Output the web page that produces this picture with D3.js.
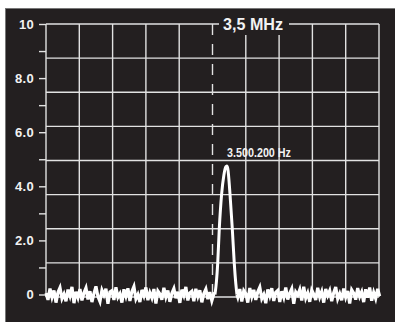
<!DOCTYPE html>
<html>
<head>
<meta charset="utf-8">
<script src="https://cdn.jsdelivr.net/npm/d3@7"></script>
<style>
  body { margin: 0; background: #fff; }
  svg { display: block; }
  text { font-family: "Liberation Sans", Arial, sans-serif; font-weight: bold; fill: #f2f2f2; }
</style>
</head>
<body>
<div id="chart"></div>
<script>
// spectrum around 3.5 MHz, x in Hz offset from centre
const centerLabel = '3,5 MHz';
const peakLabel = '3.500.200 Hz';
const spanHz = [-2500, 2500];
const divHz = 500;
const levelTicks = [0, 1, 2, 3, 4, 5, 6, 7, 8, 9, 10];
const levelLabels = { 0: '0', 2: '2.0', 4: '4.0', 6: '6.0', 8: '8.0', 10: '10' };
const noiseStepHz = 30;

// noise floor left of the carrier (starting at -2500 Hz)
const noiseLeft = [
  0.05,-0.2,0.22,-0.1,0.15,-0.3,0.08,0.25,-0.15,0.02,
  -0.25,0.18,-0.05,0.28,-0.32,0.1,-0.12,0.2,-0.22,0.06,
  0.24,-0.18,0.12,-0.28,0.04,0.3,-0.08,-0.26,0.16,-0.02,
  0.21,-0.34,0.09,0.14,-0.2,0.27,-0.1,0.03,-0.3,0.19,
  -0.06,0.23,-0.24,0.11,0.29,-0.16,0.0,-0.28,0.17,-0.04,
  0.26,-0.21,0.07,-0.12,0.2,-0.33,0.13,0.02,-0.19,0.25,
  -0.09,0.15,-0.27,0.05,0.22,-0.14,0.1,-0.31,0.18,-0.03,
  0.28,-0.22,0.06,0.12,-0.25,0.21,-0.07,0.16,-0.29,0.04,
  0.2,-0.17,0.09,-0.23,0.02
];
// carrier peak
const peakHz    = [37, 60, 78, 102, 138, 170, 200, 215, 230, 262, 297, 327, 350, 367];
const peakLevel = [0, 0.5, 1.15, 2.44, 3.74, 4.4, 4.72, 4.75, 4.65, 3.74, 2.44, 1.15, 0.4, 0];
// noise floor right of the carrier (starting at +380 Hz)
const noiseRightStart = 380;
const noiseRight = [
  -0.1,0.2,-0.26,0.14,0.03,-0.3,0.24,-0.08,0.17,-0.2,
  0.1,0.27,-0.15,0.0,-0.32,0.19,-0.05,0.23,-0.24,0.08,
  0.15,-0.28,0.12,-0.11,0.26,-0.18,0.04,0.21,-0.34,0.09,
  -0.02,0.18,-0.22,0.29,-0.13,0.06,-0.27,0.16,0.01,-0.2,
  0.25,-0.09,0.11,-0.3,0.2,-0.04,0.14,-0.25,0.07,0.28,
  -0.16,0.03,-0.21,0.22,-0.1,0.13,-0.33,0.17,0.05,-0.19,
  0.24,-0.07,0.1,-0.28,0.19,-0.12,0.26,-0.23,0.08,-0.15,
  0.21,-0.06
];

const width = 395, height = 322;
const plot = { left: 46, right: 379, top: 24, bottom: 297 };
const gridColor = '#e2e2e2';

const svg = d3.select('#chart').append('svg')
  .attr('width', width)
  .attr('height', height);

// dark panel
svg.append('rect')
  .attr('x', 5.5).attr('y', 8.5)
  .attr('width', width).attr('height', height)
  .attr('fill', '#231f20')
  .attr('stroke', '#777').attr('stroke-width', 1);

const x = d3.scaleLinear().domain(spanHz).range([plot.left, plot.right]);
const y = d3.scaleLinear().domain([0, 10]).range([294.5, 24]);
const gridY = d3.scaleLinear().domain([0, 8]).range([plot.bottom, plot.top]);

const grid = svg.append('g').attr('stroke', gridColor).attr('stroke-width', 1.4);

// horizontal divisions
grid.selectAll('line.h')
  .data(d3.range(0, 9))
  .join('line')
  .attr('class', 'h')
  .attr('x1', plot.left).attr('x2', plot.right)
  .attr('y1', d => gridY(d)).attr('y2', d => gridY(d));

// vertical divisions (centre one is dashed)
const xDivs = d3.range(spanHz[0], spanHz[1] + 1, divHz);
grid.selectAll('line.v')
  .data(xDivs.filter(d => d !== 0))
  .join('line')
  .attr('class', 'v')
  .attr('x1', d => x(d)).attr('x2', d => x(d))
  .attr('y1', plot.top).attr('y2', plot.bottom);

// y axis
const yAxis = d3.axisLeft(y)
  .tickValues(levelTicks)
  .tickSize(7)
  .tickPadding(5)
  .tickFormat(d => levelLabels[d] || '');
const ya = svg.append('g')
  .attr('transform', `translate(${plot.left},0)`)
  .call(yAxis);
ya.select('.domain').remove();
ya.selectAll('.tick line').attr('stroke', gridColor).attr('stroke-width', 1.4);
ya.selectAll('.tick text')
  .attr('fill', '#f2f2f2')
  .style('font-size', '13px')
  .style('font-family', '"Liberation Sans", Arial, sans-serif')
  .style('font-weight', 'bold')
  .style('letter-spacing', '0.3px');

// centre title box
const titleG = svg.append('g');
titleG.append('rect')
  .attr('x', 219).attr('y', 14)
  .attr('width', 70).attr('height', 21)
  .attr('fill', '#231f20');
titleG.append('text')
  .attr('x', 253).attr('y', 30)
  .attr('text-anchor', 'middle')
  .attr('textLength', 60)
  .attr('lengthAdjust', 'spacingAndGlyphs')
  .style('font-size', '17px')
  .text(centerLabel);

// centre marker
svg.append('line')
  .attr('x1', x(0)).attr('x2', x(0))
  .attr('y1', plot.top).attr('y2', plot.bottom)
  .attr('stroke', gridColor).attr('stroke-width', 1.4)
  .attr('stroke-dasharray', '11,9');

// trace
const trace = [];
noiseLeft.forEach((v, i) => trace.push([spanHz[0] + i * noiseStepHz, v]));
const line = d3.line().x(d => x(d[0])).y(d => y(d[1]));
const smooth = d3.line().x(d => x(d[0])).y(d => y(d[1])).curve(d3.curveMonotoneX);
const right = noiseRight.map((v, i) => [noiseRightStart + i * noiseStepHz, v]);
const peak = peakHz.map((h, i) => [h, peakLevel[i]]);

svg.append('path')
  .attr('d', line(trace.concat([peak[0]])))
  .attr('fill', 'none').attr('stroke', '#fff').attr('stroke-width', 3.2);
svg.append('path')
  .attr('d', smooth(peak))
  .attr('fill', 'none').attr('stroke', '#fff').attr('stroke-width', 3);
svg.append('path')
  .attr('d', line([peak[peak.length - 1]].concat(right)))
  .attr('fill', 'none').attr('stroke', '#fff').attr('stroke-width', 3.2);

// peak label
svg.append('text')
  .attr('x', 227).attr('y', 157)
  .attr('textLength', 64)
  .attr('lengthAdjust', 'spacingAndGlyphs')
  .style('font-size', '13px')
  .text(peakLabel);
</script>
</body>
</html>
